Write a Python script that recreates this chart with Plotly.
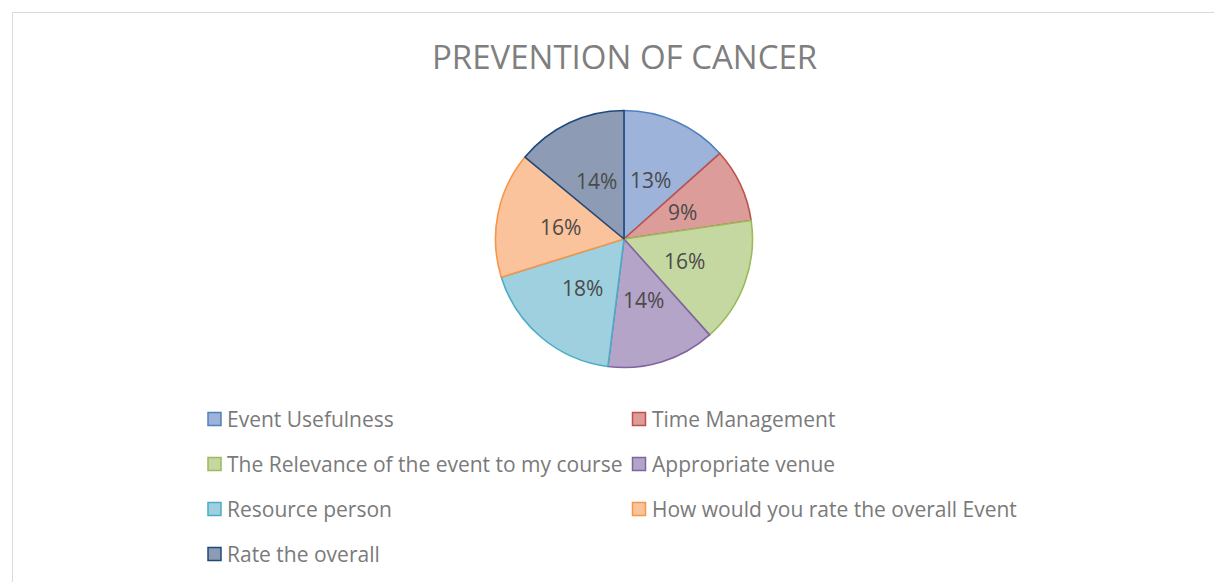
import math
import plotly.graph_objects as go

W, H = 1222, 582

title = "PREVENTION OF CANCER"
categories = [
    "Event Usefulness",
    "Time Management",
    "The Relevance of the event to my course",
    "Appropriate venue",
    "Resource person",
    "How would you rate the overall Event",
    "Rate the overall",
]
values = [13.4, 9.3, 15.7, 13.6, 18.2, 15.8, 14.0]
fill_colors = ["#9db3da", "#dc9c9a", "#c6d8a2", "#b4a4c8", "#9ed0df", "#fbc39b", "#8d9cb4"]
line_colors = ["#4f81bd", "#c0504d", "#9bbb59", "#8064a2", "#4bacc6", "#f79646", "#1f497d"]

FONT = "Open Sans"
OFF = 8  # page body margin compensation


def px(x):
    return (x - OFF) / W


def py(y):
    return 1 - (y - OFF) / H


cx, cy, r = 624, 239, 128.5

fig = go.Figure(
    go.Pie(
        labels=categories,
        values=values,
        sort=False,
        direction="clockwise",
        rotation=0,
        marker=dict(colors=fill_colors, line=dict(color=line_colors, width=1.6)),
        textposition="none",
        showlegend=False,
        domain=dict(x=[px(cx - r), px(cx + r)], y=[py(cy + r), py(cy - r)]),
        hoverinfo="label+percent",
    )
)

shapes = [
    dict(type="rect", xref="paper", yref="paper",
         x0=px(12.5), x1=px(W + 20), y0=py(H + 20), y1=py(12.5),
         line=dict(color="#d9d9d9", width=1), fillcolor="rgba(0,0,0,0)", layer="below")
]
annotations = [
    dict(text=title, x=px(624), y=py(56), xref="paper", yref="paper",
         showarrow=False, xanchor="center", yanchor="middle",
         font=dict(family=FONT, size=33, color="#7f7f7f"))
]

# percentage labels at half radius along each slice's mid angle
total = sum(values)
cum = 0.0
for v in values:
    mid = (cum + v / 2) / total * 2 * math.pi
    cum += v
    lx = cx + 0.5 * r * math.sin(mid)
    ly = cy - 0.5 * r * math.cos(mid)
    annotations.append(dict(text=f"{round(v / total * 100)}%", x=px(lx), y=py(ly),
                            xref="paper", yref="paper", showarrow=False,
                            xanchor="center", yanchor="middle",
                            font=dict(family=FONT, size=21, color="#4a4a4a")))

col_x = [208, 632.5]
row_y0, row_dy = 419, 45
for i, name in enumerate(categories):
    col = i % 2
    row = i // 2
    x0 = col_x[col]
    yc = row_y0 + row * row_dy
    shapes.append(dict(type="rect", xref="paper", yref="paper",
                       x0=px(x0), x1=px(x0 + 13), y0=py(yc + 6.5), y1=py(yc - 6.5),
                       fillcolor=fill_colors[i], line=dict(color=line_colors[i], width=1.5)))
    annotations.append(dict(text=name, x=px(x0 + 17), y=py(yc), xref="paper", yref="paper",
                            showarrow=False, xanchor="left", yanchor="middle",
                            font=dict(family=FONT, size=21, color="#7a7a7a")))

fig.update_layout(
    width=W, height=H,
    margin=dict(l=0, r=0, t=0, b=0),
    paper_bgcolor="white", plot_bgcolor="white",
    shapes=shapes, annotations=annotations,
    showlegend=False,
)

fig.write_html("out.html")
